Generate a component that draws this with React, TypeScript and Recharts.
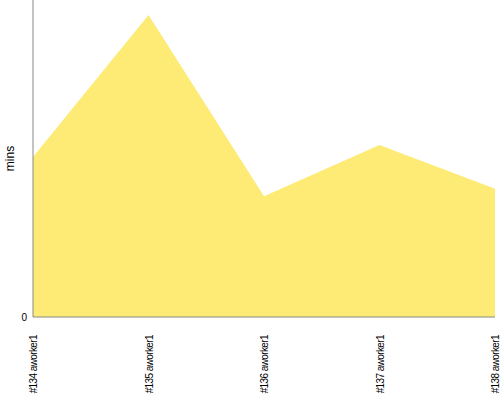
import React from 'react'
import { Area, AreaChart, XAxis, YAxis } from 'recharts'

const builds = ['#134 aworker1', '#135 aworker1', '#136 aworker1', '#137 aworker1', '#138 aworker1']
const durations = [10.6, 20.0, 8.0, 11.4, 8.5]

const data = builds.map((name, i) => ({ name, mins: durations[i] }))

type TickProps = { x?: number; y?: number; payload?: { value: string } }

const BuildTick = ({ x = 0, y = 0, payload }: TickProps) => (
    <text
        x={0}
        y={0}
        transform={`translate(${x + 4},${y + 10}) rotate(-90)`}
        textAnchor="end"
        fontFamily="Liberation Sans"
        fontSize={10}
        letterSpacing={-0.6}
        fill="#000"
    >
        {payload?.value}
    </text>
)

const MinsLabel = ({ viewBox }: any) => {
    const cy = viewBox ? viewBox.y + viewBox.height / 2 : 158
    return (
        <text
            transform={`translate(14,${cy}) rotate(-90)`}
            textAnchor="middle"
            fontFamily="Liberation Sans"
            fontSize={12}
            fill="#000"
        >
            mins
        </text>
    )
}

const App = () => (
    <div style={{ position: 'absolute', left: 0, top: 0 }}>
        <AreaChart width={500} height={400} data={data} margin={{ top: 0, right: 5, bottom: 0, left: 0 }}>
            <XAxis
                dataKey="name"
                height={83}
                stroke="#888"
                tickLine={false}
                interval={0}
                tick={<BuildTick />}
            />
            <YAxis
                width={33}
                domain={[0, 21]}
                ticks={[0]}
                stroke="#888"
                tickLine={false}
                tick={{ fill: '#000', fontSize: 10, fontFamily: 'Liberation Sans', dx: 2 }}
                label={<MinsLabel />}
            />
            <Area type="linear" dataKey="mins" stroke="none" fill="#fdeb75" fillOpacity={1} isAnimationActive={false} />
        </AreaChart>
    </div>
)

export default App
